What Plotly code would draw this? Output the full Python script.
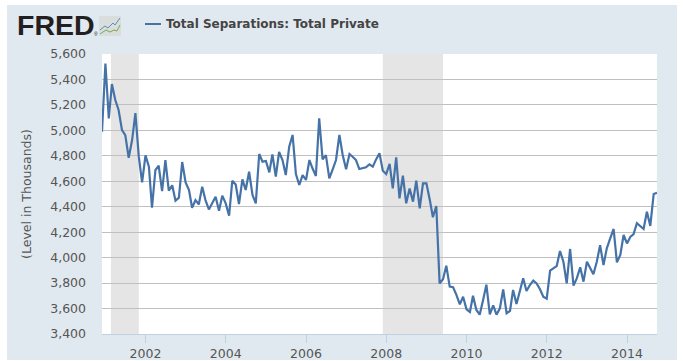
import plotly.graph_objects as go
import pandas as pd

series_name = "Total Separations: Total Private"
dates = pd.date_range("2000-12-01", periods=167, freq="MS")
values = [
 4989,5525,5094,5364,5238,5160,5002,4963,4785,4924,5135,4793,4591,4803,4714,4392,4688,4722,4523,4767,
 4526,4568,4447,4471,4751,4591,4531,4392,4452,4418,4557,4452,4379,4431,4479,4369,4487,4426,4330,4604,
 4575,4421,4615,4531,4675,4492,4426,4814,4754,4759,4670,4811,4636,4830,4767,4649,4872,4964,4657,4571,
 4649,4610,4767,4702,4641,5095,4772,4806,4623,4694,4767,4964,4806,4694,4814,4793,4767,4696,4702,4710,
 4733,4715,4772,4820,4683,4657,4736,4544,4788,4466,4644,4427,4544,4440,4605,4387,4584,4584,4453,4317,
 4406,3798,3830,3937,3772,3767,3707,3633,3693,3594,3573,3701,3589,3552,3667,3788,3555,3625,3552,3602,
 3751,3563,3581,3746,3636,3733,3838,3738,3785,3819,3798,3751,3693,3678,3898,3916,3934,4052,3968,3798,
 4068,3780,3837,3924,3811,3968,3921,3869,3968,4097,3942,4073,4152,4225,3963,4021,4178,4112,4165,4183,
 4270,4251,4225,4361,4249,4500,4510,
]
recessions = [("2001-02-20", "2001-11-01"), ("2007-12-01", "2009-06-01")]
y_ticks = list(range(3400, 5601, 200))
x_ticks = [f"{y}-01-01" for y in range(2002, 2015, 2)]
x_labels = [str(y) for y in range(2002, 2015, 2)]

W, H = 683, 361
L, R, T, B = 102, 657, 54, 334
px = lambda v: (v - L) / (R - L)
py = lambda v: (B - v) / (B - T)

fig = go.Figure(go.Scatter(x=dates, y=values, mode="lines", name=series_name,
                           line=dict(color="#4572A7", width=2.2), showlegend=False,
                           hovertemplate="%{x|%b %Y}: %{y:,}<extra></extra>"))

shapes = [
    dict(type="rect", xref="paper", yref="paper", x0=px(7), x1=px(677), y0=py(360), y1=py(5),
         fillcolor="#E1E9F0", line_width=0, layer="below"),
    dict(type="rect", xref="paper", yref="paper", x0=0, x1=1, y0=0, y1=1,
         fillcolor="#FFFFFF", line_width=0, layer="below"),
]
for a, b in recessions:
    shapes.append(dict(type="rect", xref="x", yref="paper", x0=a, x1=b, y0=0, y1=1,
                       fillcolor="#E5E5E5", line_width=0, layer="between"))
# legend key
shapes.append(dict(type="line", xref="paper", yref="paper", x0=px(145), x1=px(161), y0=py(24), y1=py(24),
                   line=dict(color="#4572A7", width=2)))
# logo badge
shapes.append(dict(type="rect", xref="paper", yref="paper", x0=px(99), x1=px(121), y0=py(36), y1=py(16),
                   fillcolor="#D9DEDC", line_width=0))
shapes.append(dict(type="path", xref="paper", yref="paper",
                   path=f"M {px(100)} {py(30)} L {px(105)} {py(26)} L {px(108)} {py(28)} L {px(113)} {py(23)} L {px(115)} {py(25)} L {px(120)} {py(18)}",
                   line=dict(color="#5C8DB8", width=1)))
shapes.append(dict(type="path", xref="paper", yref="paper",
                   path=f"M {px(100)} {py(34)} L {px(106)} {py(30)} L {px(110)} {py(32)} L {px(114)} {py(30)} L {px(117)} {py(31)} L {px(120)} {py(25)}",
                   line=dict(color="#7FA650", width=1)))

annotations = [
    dict(text="<b>FRED</b>", xref="paper", yref="paper", x=px(15), y=py(25.5), xanchor="left", yanchor="middle",
         showarrow=False, font=dict(family="Liberation Sans", size=28.5, color="#231F20")),
    dict(text="®", xref="paper", yref="paper", x=px(92), y=py(34), xanchor="left", yanchor="middle",
         showarrow=False, font=dict(family="Liberation Sans", size=5, color="#231F20")),
    dict(text=f"<b>{series_name}</b>", xref="paper", yref="paper", x=px(164), y=py(24), xanchor="left", yanchor="middle",
         showarrow=False, font=dict(family="DejaVu Sans", size=12, color="#444444")),
]

fig.update_layout(
    width=W, height=H, autosize=False,
    margin=dict(l=L, r=W - R, t=T, b=H - B, pad=0),
    paper_bgcolor="#FFFFFF", plot_bgcolor="rgba(0,0,0,0)",
    shapes=shapes, annotations=annotations,
    font=dict(family="DejaVu Sans", size=11.5, color="#555555"),
    xaxis=dict(range=["2000-12-01", "2014-10-01"], tickmode="array", tickvals=x_ticks, ticktext=x_labels,
               showgrid=False, ticks="outside", ticklen=8, tickcolor="#C0D0E0", tickwidth=1, automargin=False,
               showline=True, linecolor="#C0D0E0", linewidth=1, zeroline=False,
               tickfont=dict(size=12.5, color="#555555")),
    yaxis=dict(range=[3400, 5600], tickmode="array", tickvals=y_ticks, tickformat=",", automargin=False,
               showgrid=True, gridcolor="#C0C0C0", gridwidth=1, zeroline=False, showline=False,
               ticks="", ticklabelstandoff=15,
               tickfont=dict(size=12.5, color="#555555"),
               title=dict(text="(Level in Thousands)", standoff=15, font=dict(size=12.5, color="#555555"))),
)
fig.write_html("out.html", config=dict(displayModeBar=False),
               post_script="document.body.style.margin='0';")
